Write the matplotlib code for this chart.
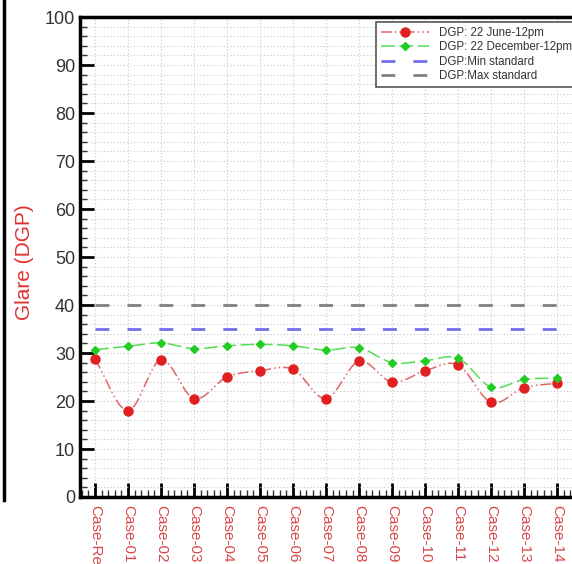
import numpy as np
import matplotlib
matplotlib.use("Agg")
import matplotlib.pyplot as plt
from matplotlib.lines import Line2D
from matplotlib.ticker import MultipleLocator

plt.rcParams['font.family'] = ['Liberation Sans', 'DejaVu Sans']

cases = ['Case-Re', 'Case-01', 'Case-02', 'Case-03', 'Case-04', 'Case-05', 'Case-06',
         'Case-07', 'Case-08', 'Case-09', 'Case-10', 'Case-11', 'Case-12', 'Case-13', 'Case-14']
june = [28.7, 18.0, 28.6, 20.5, 25.0, 26.3, 26.6, 20.5, 28.3, 23.9, 26.3, 27.5, 19.7, 22.8, 23.7]
december = [30.7, 31.4, 32.1, 30.9, 31.5, 31.8, 31.5, 30.6, 31.1, 28.0, 28.4, 28.9, 22.9, 24.5, 24.8]
dgp_min = 35
dgp_max = 40


def smooth(x, y, n=20):
    # Catmull-Rom curve through the points, only for drawing the connecting line
    x = np.asarray(x, float)
    y = np.asarray(y, float)
    px = np.concatenate([[2 * x[0] - x[1]], x, [2 * x[-1] - x[-2]]])
    py = np.concatenate([[2 * y[0] - y[1]], y, [2 * y[-1] - y[-2]]])
    xs, ys = [], []
    t = np.linspace(0, 1, n, endpoint=False)
    for i in range(1, len(px) - 2):
        for p, out in ((px, xs), (py, ys)):
            p0, p1, p2, p3 = p[i - 1], p[i], p[i + 1], p[i + 2]
            out.extend(0.5 * (2 * p1 + (-p0 + p2) * t + (2 * p0 - 5 * p1 + 4 * p2 - p3) * t ** 2
                              + (-p0 + 3 * p1 - 3 * p2 + p3) * t ** 3))
    xs.append(x[-1])
    ys.append(y[-1])
    return np.array(xs), np.array(ys)


x = np.arange(len(cases))

fig = plt.figure(figsize=(5.72, 5.64), dpi=100)
ax = fig.add_axes([0.14, 0.1188, 0.866, 0.851])

red = '#e02020'
red_line = '#e06666'
green = '#22cc22'
green_line = '#55dd55'

sx, sy = smooth(x, june)
ax.plot(sx, sy, color=red_line, lw=1.1, ls=(0, (7, 2, 1, 2, 1, 2)))
ax.plot(x, june, 'o', color=red, ms=6.5, zorder=5)

sx, sy = smooth(x, december)
ax.plot(sx, sy, color=green_line, lw=1.1, ls=(0, (9, 3)))
ax.plot(x, december, 'D', color=green, ms=4.5, zorder=5)

ax.plot([x[0], x[-1]], [dgp_min, dgp_min], color='#6f6ff0', lw=2, ls=(0, (5, 6.5)))
ax.plot([x[0], x[-1]], [dgp_max, dgp_max], color='#808080', lw=2, ls=(0, (5, 6.5)))

ax.set_xlim(-0.45, 14.55)
ax.set_ylim(0, 100)
ax.yaxis.set_major_locator(MultipleLocator(10))
ax.yaxis.set_minor_locator(MultipleLocator(2))
ax.set_xticks(x)
ax.set_xticklabels(cases, rotation=-90, color='#d84848', fontsize=11)
ax.xaxis.set_minor_locator(MultipleLocator(0.2))
ax.tick_params(axis='y', labelsize=13, labelcolor='#333333')
ax.tick_params(which='major', direction='in', length=10, width=2, color='black')
ax.tick_params(which='minor', direction='in', length=5, width=1, color='#333333')
ax.tick_params(axis='x', pad=6)

ax.grid(True, which='minor', axis='y', color='#c8c8c8', ls=(0, (1, 2)), lw=0.8)
ax.grid(True, which='major', axis='y', color='#c8c8c8', ls=(0, (1, 2)), lw=0.8)
ax.grid(True, which='major', axis='x', color='#c8c8c8', ls=(0, (1, 2)), lw=0.8)
ax.set_axisbelow(True)

for s in ax.spines.values():
    s.set_linewidth(2.5)
    s.set_color('black')

fig.text(0.042, 0.535, 'Glare (DGP)', color='#e03030', fontsize=15,
         rotation=90, ha='center', va='center')

handles = [
    Line2D([], [], color=red_line, lw=1.1, ls=(0, (7, 2, 1, 2, 1, 2)), marker='o',
           markerfacecolor=red, markeredgecolor=red, ms=6.5),
    Line2D([], [], color=green_line, lw=1.1, ls=(0, (9, 3)), marker='D',
           markerfacecolor=green, markeredgecolor=green, ms=4.5),
    Line2D([], [], color='#6f6ff0', lw=2, ls=(0, (5, 6.5))),
    Line2D([], [], color='#808080', lw=2, ls=(0, (5, 6.5))),
]
labels = ['DGP: 22 June-12pm', 'DGP: 22 December-12pm', 'DGP:Min standard', 'DGP:Max standard']
leg = ax.legend(handles, labels, loc='upper left', bbox_to_anchor=(0.597, 0.99),
                borderaxespad=0, fontsize=8.3, handlelength=4.2, handletextpad=0.8,
                fancybox=False, framealpha=1, edgecolor='#555555',
                labelspacing=0.2, borderpad=0.45)
for t in leg.get_texts():
    t.set_color('#333333')
leg.get_frame().set_linewidth(1.2)

fig.add_artist(Line2D([0.007, 0.007], [1.0, (564 - 500) / 564], color='black', lw=2.5))

fig.savefig('out.png', dpi=100)
